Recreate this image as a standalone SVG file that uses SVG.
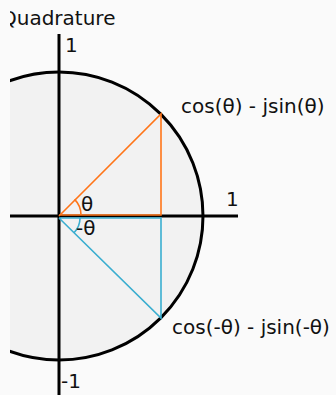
<svg xmlns="http://www.w3.org/2000/svg" width="336" height="395" viewBox="0 0 336 395">
<defs>
<style>
text{font-family:"DejaVu Sans",sans-serif;font-size:20px;fill:#111}
.ax{stroke:#000;stroke-width:3;fill:none}
.or{stroke:#ff7518;stroke-width:1.6;fill:none}
.cy{stroke:#3aaed0;stroke-width:1.6;fill:none}
</style>
<clipPath id="c"><rect x="10" y="0" width="326" height="395"/></clipPath>
</defs>
<rect width="336" height="395" fill="#fafafa"/>
<g clip-path="url(#c)">
<g id="circle"><circle cx="59" cy="216" r="144" fill="#f2f2f2" stroke="#000" stroke-width="3"/></g>
<g id="axes">
<line class="ax" x1="0" y1="216" x2="238" y2="216"/>
<line class="ax" x1="59" y1="34" x2="59" y2="395"/>
</g>
<g id="connectors">
<polyline class="or" points="59,216 161,114 161,215 59,215"/>
<polyline class="cy" points="59,218 161,318 161,218 59,218"/>
<path class="or" d="M81,215 A22,22 0 0 0 74.6,199.4"/>
<path class="cy" d="M80,218 A21,21 0 0 1 74,232.7"/>
</g>
<text x="1" y="25">Quadrature</text>
</g>
<text x="65" y="52">1</text>
<text x="226" y="206">1</text>
<text x="61" y="388">-1</text>
<text x="81" y="211">θ</text>
<text x="76" y="235">-θ</text>
<text x="181" y="113">cos(θ) - jsin(θ)</text>
<text x="172" y="334">cos(-θ) - jsin(-θ)</text>
</svg>
